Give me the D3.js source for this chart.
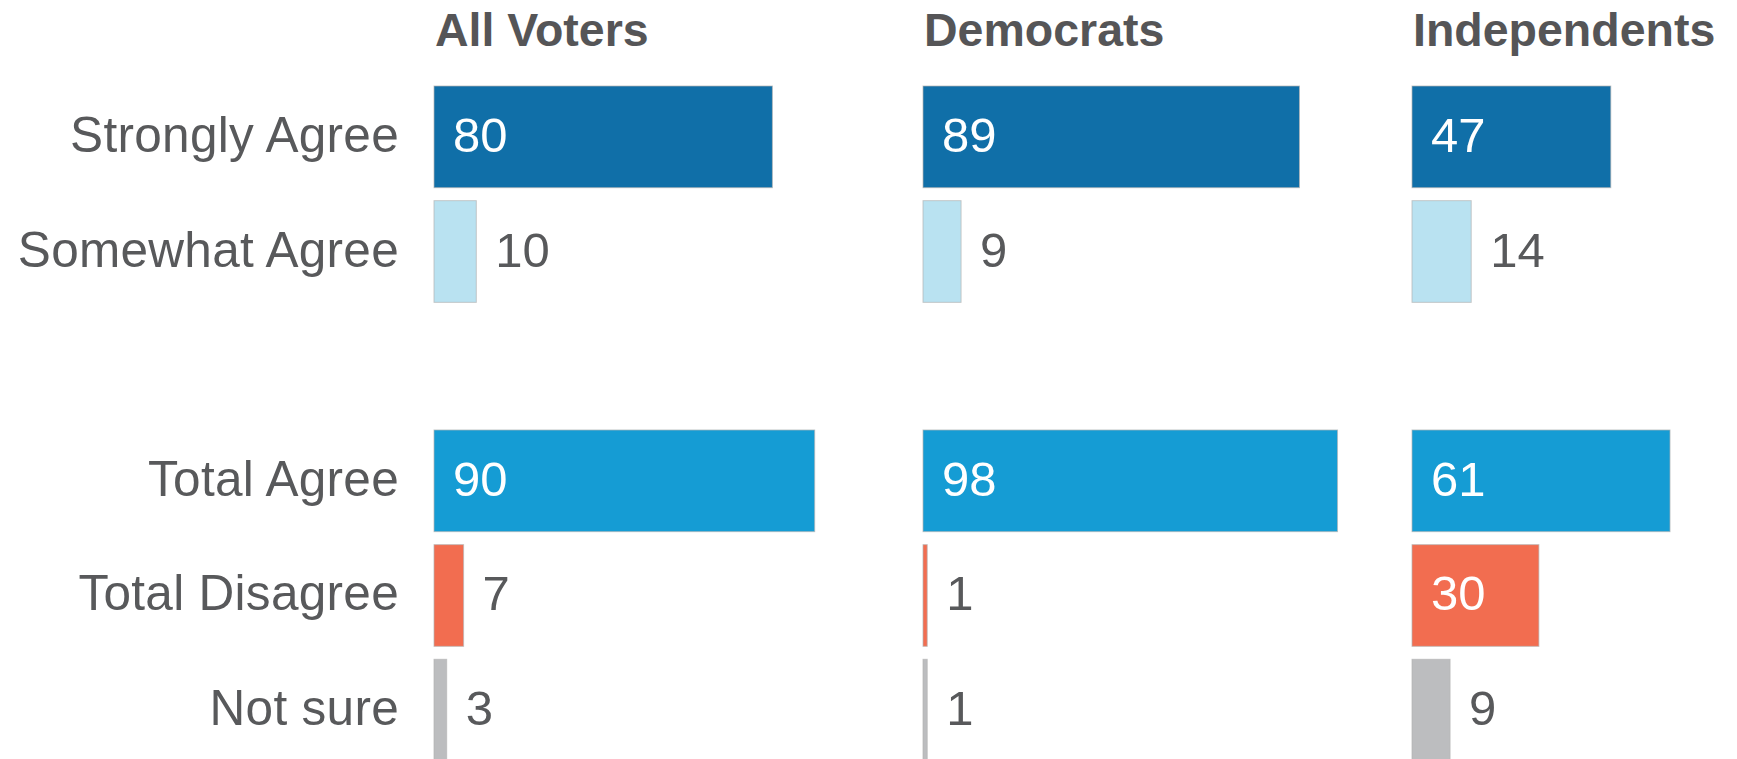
<!DOCTYPE html>
<html>
<head>
<meta charset="utf-8">
<script src="https://cdn.jsdelivr.net/npm/d3@7"></script>
<style>
  html, body { margin: 0; padding: 0; background: #fff; }
  svg { display: block; }
  text { font-family: "Liberation Sans", Arial, sans-serif; }
</style>
</head>
<body>
<svg id="chart" width="1737" height="759"></svg>
<script>
// ---- data ----
const groups = ["All Voters", "Democrats", "Independents"];
const categories = ["Strongly Agree", "Somewhat Agree", "", "Total Agree", "Total Disagree", "Not sure"];
const responseRows = ["Strongly Agree", "Somewhat Agree", "Total Agree", "Total Disagree", "Not sure"];
const allVoters = [80, 10, 90, 7, 3];
const democrats = [89, 9, 98, 1, 1];
const independents = [47, 14, 61, 30, 9];
const seriesValues = [allVoters, democrats, independents];

// ---- styles ----
const colors = {
  "Strongly Agree": "#106fa8",
  "Somewhat Agree": "#b9e2f1",
  "Total Agree": "#159cd4",
  "Total Disagree": "#f26d50",
  "Not sure": "#bcbdbf"
};
const textColor = "#58595b";

const svg = d3.select("#chart");

const y = d3.scaleBand()
  .domain(categories)
  .range([86, 761])
  .paddingInner(0.113)
  .paddingOuter(0);

const colX = d3.scalePoint()
  .domain(groups)
  .range([434, 1412]);

const x = d3.scaleLinear().domain([0, 100]).range([0, 423]);

// row labels
svg.append("g").selectAll("text")
  .data(responseRows)
  .join("text")
  .attr("x", 399)
  .attr("y", d => y(d) + y.bandwidth() / 2 + 15)
  .attr("text-anchor", "end")
  .attr("font-size", 49.5)
  .attr("letter-spacing", 0.3)
  .attr("fill", textColor)
  .text(d => d);

groups.forEach((g, gi) => {
  const gx = colX(g);
  const grp = svg.append("g").attr("transform", `translate(${gx},0)`);

  grp.append("text")
    .attr("x", 1)
    .attr("y", 46)
    .attr("font-size", 46.5)
    .attr("font-weight", "bold")
    .attr("fill", "#555557")
    .text(g);

  const rows = responseRows.map((r, i) => ({ cat: r, v: seriesValues[gi][i] }));

  grp.selectAll("rect")
    .data(rows)
    .join("rect")
    .attr("x", 0)
    .attr("y", d => y(d.cat))
    .attr("width", d => x(d.v))
    .attr("height", y.bandwidth())
    .attr("fill", d => colors[d.cat])
    .attr("stroke", "#b5b5b5")
    .attr("stroke-opacity", 0.7)
    .attr("stroke-width", 1);

  grp.selectAll("text.val")
    .data(rows)
    .join("text")
    .attr("class", "val")
    .attr("x", d => d.v >= 20 ? 19 : x(d.v) + 19)
    .attr("y", d => y(d.cat) + y.bandwidth() / 2 + 15)
    .attr("font-size", 49)
    .attr("fill", d => d.v >= 20 ? "#ffffff" : textColor)
    .text(d => d.v);
});
</script>
</body>
</html>
